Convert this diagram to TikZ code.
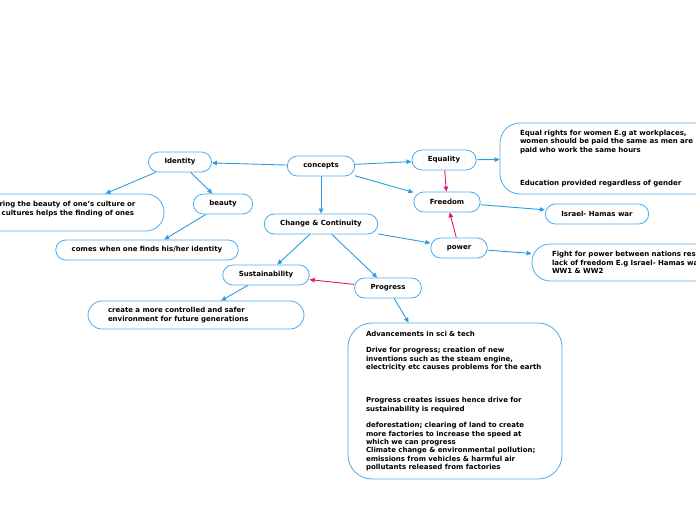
\documentclass[tikz,border=0pt]{standalone}
\usepackage{fontspec}
\setmainfont{DejaVu Sans}
\usepackage{xcolor}
\usepackage{tikz}
\usetikzlibrary{arrows.meta}
\definecolor{mapblue}{HTML}{2D9BE2}
\definecolor{mapline}{HTML}{4AAAEE}
\definecolor{mapred}{HTML}{E6176A}

\begin{document}
\begin{tikzpicture}[
    x=1pt, y=-1pt,
    every node/.style={font=\fontsize{7}{8.33}\selectfont\bfseries, text=black},
    pill/.style={draw=mapline, line width=0.8pt, rounded corners=10pt, minimum height=20pt, inner xsep=16pt, inner ysep=2pt},
    note/.style={draw=mapline, line width=0.8pt, rounded corners=18pt, inner xsep=20pt, inner ysep=2pt, align=left},
    link/.style={draw=mapblue, line width=0.9pt, -{Triangle[length=5pt,width=4.5pt]}},
    pull/.style={draw=mapred, line width=0.9pt, -{Triangle[length=5pt,width=4.5pt]}}
]
\useasboundingbox (0,0) rectangle (696,520);

% main topics
\node[pill] (concepts) at (321,166) {concepts};
\node[pill] (identity) at (180,162) {Identity};
\node[pill] (beauty) at (223,204) {beauty};
\node[pill] (change) at (321,224) {Change \& Continuity};
\node[pill] (sustain) at (266,275) {Sustainability};
\node[pill] (progress) at (388,288) {Progress};
\node[pill] (equality) at (444,160) {Equality};
\node[pill] (freedom) at (447,202) {Freedom};
\node[pill] (power) at (459,248) {power};
\node[pill] (israel) at (597,214) {Israel- Hamas war};
\node[pill] (finds) at (147,250) {comes when one finds his/her identity};

% notes
\node[note, text width=166pt, minimum height=37pt] (explore) at (61,212.5)
  {Exploring the beauty of one's culture or\\other cultures helps the finding of ones\\ \mbox{}};
\node[note, rounded corners=14pt, text width=176pt, minimum height=28pt] (safer) at (196,315)
  {create a more controlled and safer\\environment for future generations};
\node[note, text width=190pt, minimum height=71pt, rounded corners=20pt] (rights) at (615,158.5)
  {Equal rights for women E.g at workplaces,\\women should be paid the same as men are\\paid who work the same hours\\[25pt]Education provided regardless of gender};
\node[note, text width=200pt, minimum height=37pt] (fight) at (652,262.5)
  {Fight for power between nations results in\\lack of freedom E.g Israel- Hamas war\\WW1 \& WW2};
\node[note, inner xsep=18pt, text width=178pt, minimum height=156pt, rounded corners=24pt] (advance) at (455,401)
  {Advancements in sci \& tech\\[8.33pt]
   Drive for progress; creation of new\\inventions such as the steam engine,\\electricity etc causes problems for the earth\\[25pt]
   Progress creates issues hence drive for\\sustainability is required\\[8.33pt]
   deforestation; clearing of land to create\\more factories to increase the speed at\\which we can progress\\
   Climate change \& environmental pollution;\\emissions from vehicles \& harmful air\\pollutants released from factories};

% connectors
\draw[link] (concepts) -- (identity);
\draw[link] (concepts) -- (equality);
\draw[link] (concepts) -- (freedom);
\draw[link] (concepts) -- (change);
\draw[link] (identity) -- (explore);
\draw[link] (identity) -- (beauty);
\draw[link] (beauty) -- (finds);
\draw[link] (change) -- (sustain);
\draw[link] (change) -- (progress);
\draw[link] (change) -- (power);
\draw[link] (sustain) -- (safer);
\draw[link] (progress) -- (advance);
\draw[link] (equality) -- (rights);
\draw[link] (freedom) -- (israel);
\draw[link] (power) -- (fight);
\draw[pull] (equality) -- (freedom);
\draw[pull] (power) -- (freedom);
\draw[pull] (progress) -- (sustain);
\end{tikzpicture}
\end{document}
